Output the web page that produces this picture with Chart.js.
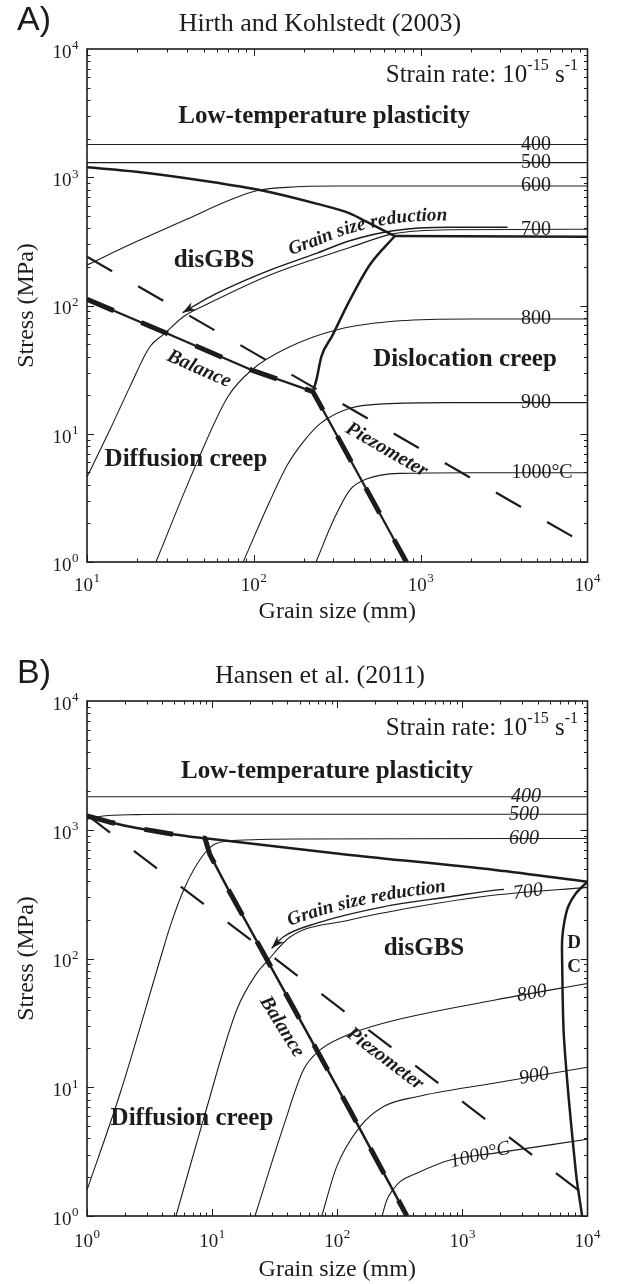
<!DOCTYPE html>
<html>
<head>
<meta charset="utf-8">
<title>Deformation mechanism maps</title>
<script src="https://cdn.jsdelivr.net/npm/chart.js@4.4.1/dist/chart.umd.min.js"></script>
<style>
  html, body { margin: 0; padding: 0; background: #fff; }
  canvas { display: block; }
</style>
</head>
<body>
<canvas id="panelA" width="625" height="642"></canvas>
<canvas id="panelB" width="625" height="642"></canvas>
<script>
// [grain size, stress (MPa)] pairs

// A) Hirth and Kohlstedt (2003)
const aIso400 = [[10, 1800], [10000, 1800]];
const aIso500 = [[10, 1300], [10000, 1300]];
const aIso600 = [[10, 207], [19.8, 315], [39.5, 470], [71.8, 665], [104, 785], [157, 834], [313, 855], [10000, 855]];
const aIso700 = [[10, 4.6], [13.7, 10.7], [18.1, 23.3], [23.8, 47.7], [29.3, 60.7], [37.8, 81.8], [54.6, 105], [125, 173], [376, 283], [683, 362], [1500, 390], [10000, 393]];
const aIso800 = [[25.9, 1], [45.4, 5.9], [70, 19.5], [97, 31.4], [157, 46.4], [320, 65], [750, 76], [2000, 78.5], [10000, 78.5]];
const aIso900 = [[86.3, 1], [125, 3.0], [160, 5.8], [200, 8.8], [250, 12], [376, 15.8], [600, 17.1], [1500, 17.5], [10000, 17.5]];
const aIso1000 = [[236, 1], [299, 2.1], [376, 3.64], [473, 4.43], [748, 4.91], [2000, 4.97], [10000, 4.97]];
const aLtpCurve = [[10, 1196], [19.8, 1105], [49.8, 940], [114, 785], [240, 620], [376, 523], [473, 450], [700, 348]];
const aLtpFlat = [[700, 348], [10000, 344]];
const aDislBoundary = [[226, 21.3], [237, 26.2], [254, 39.9], [295, 58], [376, 110], [495, 207], [700, 348]];
const aBalance = [[10, 112], [30, 60.7], [97, 31.4], [226, 21.3], [821, 1]];
const aPiezometer = [[10, 240], [8470, 1.53]];
const aArrow = [[37.4, 87.9], [54.6, 117], [94.6, 163], [125, 189], [237, 255], [376, 320], [683, 383], [1494, 407], [3320, 407]];

const aIsoLabels = [['400', 4910, 1800], ['500', 4910, 1300], ['600', 4910, 855], ['700', 4910, 393],
                    ['800', 4910, 78.5], ['900', 4910, 17.5], ['1000°C', 5340, 4.97]];
const aFieldLabels = [['Low-temperature plasticity', 264, 2965], ['disGBS', 57.7, 226],
                      ['Dislocation creep', 1845, 37.6], ['Diffusion creep', 39.2, 6.24]];
const aLineLabels = [['Balance', 46.9, 32, 24], ['Piezometer', 625, 7.47, 30]];

// B) Hansen et al. (2011)
const bIso400 = [[1, 1806], [10000, 1806]];
const bIso500 = [[1, 1210], [1.35, 1280], [2.5, 1310], [5, 1318], [10000, 1318]];
const bIso600 = [[1, 1.59], [1.84, 8.98], [3.83, 97.3], [4.61, 177], [6.08, 361], [8.5, 637], [10.9, 785], [17.8, 832], [50, 848], [10000, 855]];
const bIso700 = [[5.14, 1], [8.5, 5.57], [15.7, 39.8], [22.7, 76.7], [27.3, 94.4], [42, 147], [126, 199], [432, 252], [1825, 311], [10000, 357]];
const bIso800 = [[22, 1], [37, 4.9], [53.6, 13.6], [73, 19.5], [112, 24.7], [233, 31.4], [1825, 47.6], [10000, 64]];
const bIso900 = [[75.2, 1], [99, 2.42], [152, 4.94], [233, 7.06], [432, 8.45], [1825, 10.8], [10000, 14.3]];
const bIso1000 = [[228, 1], [249, 1.33], [281, 1.62], [318, 1.85], [432, 2.15], [798, 2.72], [1825, 3.08], [10000, 3.94]];
const bLtp = [[1, 1280], [1.5, 1150], [2.5, 1030], [5, 920], [8.77, 859], [126, 637], [1825, 487], [10000, 395]];
const bBalance = [[8.77, 859], [9.6, 640], [13.1, 361], [126, 6.65], [360, 1]];
const bPiezometer = [[1, 1303], [8730, 1.55]];
const bDc = [[10000, 395], [8090, 321], [7000, 252], [6500, 188], [6270, 139], [6270, 97], [6500, 23.3], [8090, 2.15], [9060, 1]];
const bArrow = [[29.9, 120], [37, 147], [68.6, 188], [233, 252], [797, 302], [1825, 340], [2150, 344]];

const bIsoLabels = [['400', 3220, 1806, 0], ['500', 3110, 1318, 0], ['600', 3110, 850, 0], ['700', 3350, 330, -8],
                    ['800', 3600, 53.6, -10], ['900', 3740, 12.2, -10], ['1000°C', 1384, 2.96, -14]];
const bFieldLabels = [['Low-temperature plasticity', 82.8, 2825], ['disGBS', 493, 120], ['Diffusion creep', 6.9, 5.74]];
const bLineLabels = [['Balance', 36, 29.5, 58], ['Piezometer', 241, 16.6, 37]];
const bLetters = [['D', 7800, 131], ['C', 7800, 86.3]];

const INK = '#1c1c1c';
const SERIF = '"Liberation Serif", "Times New Roman", serif';
const SANS = '"Liberation Sans", Arial, sans-serif';

function pts(arr) {
  return arr.map(p => ({ x: p[0], y: p[1] }));
}

function line(arr, width, extra) {
  return Object.assign({
    data: pts(arr), borderColor: INK, borderWidth: width, pointRadius: 0,
    fill: false, clip: 0, tension: 0, borderJoinStyle: 'round'
  }, extra || {});
}

const smooth = { cubicInterpolationMode: 'monotone' };
const dashed = { borderDash: [29, 30], borderCapStyle: 'butt' };

function text(ctx, s, x, y, font, angle, align) {
  ctx.save();
  ctx.font = font;
  ctx.textAlign = align || 'center';
  ctx.textBaseline = 'middle';
  ctx.translate(x, y);
  if (angle) ctx.rotate(angle * Math.PI / 180);
  ctx.fillText(s, 0, 0);
  ctx.restore();
}

// "10" with a raised exponent
function power(ctx, e, x, y, align) {
  ctx.font = '19px ' + SERIF;
  const wb = ctx.measureText('10').width;
  ctx.font = '13px ' + SERIF;
  const ws = ctx.measureText(String(e)).width;
  const total = wb + ws + 0.5;
  const x0 = align === 'center' ? x - total / 2 : x - total;
  ctx.textAlign = 'left';
  ctx.textBaseline = 'middle';
  ctx.font = '19px ' + SERIF;
  ctx.fillText('10', x0, y);
  ctx.font = '13px ' + SERIF;
  ctx.fillText(String(e), x0 + wb + 0.5, y - 7);
}

function strainRate(ctx, xRight, y) {
  const segs = [['Strain rate: 10', '25px ', 0], ['-15', '16px ', -9], [' s', '25px ', 0], ['-1', '16px ', -9]];
  let total = 0;
  segs.forEach(s => { ctx.font = s[1] + SERIF; total += ctx.measureText(s[0]).width; });
  let cx = xRight - total;
  ctx.textAlign = 'left';
  ctx.textBaseline = 'middle';
  segs.forEach(s => {
    ctx.font = s[1] + SERIF;
    ctx.fillText(s[0], cx, y + s[2]);
    cx += ctx.measureText(s[0]).width;
  });
}

// sample the drawn bezier of a line dataset
function densePath(meta) {
  const p = meta.data, out = [];
  for (let i = 0; i < p.length - 1; i++) {
    const a = p[i], b = p[i + 1];
    const c1x = a.cp2x ?? a.x, c1y = a.cp2y ?? a.y, c2x = b.cp1x ?? b.x, c2y = b.cp1y ?? b.y;
    for (let t = 0; t < 1; t += 0.05) {
      const u = 1 - t;
      out.push({
        x: u * u * u * a.x + 3 * u * u * t * c1x + 3 * u * t * t * c2x + t * t * t * b.x,
        y: u * u * u * a.y + 3 * u * u * t * c1y + 3 * u * t * t * c2y + t * t * t * b.y
      });
    }
  }
  out.push({ x: p[p.length - 1].x, y: p[p.length - 1].y });
  return out;
}

function textOnPath(ctx, s, path, startX, off, font) {
  const L = [0];
  for (let i = 1; i < path.length; i++) {
    L.push(L[i - 1] + Math.hypot(path[i].x - path[i - 1].x, path[i].y - path[i - 1].y));
  }
  let d = 0;
  for (let i = 1; i < path.length; i++) {
    if (path[i].x >= startX) {
      const f = (startX - path[i - 1].x) / (path[i].x - path[i - 1].x);
      d = L[i - 1] + f * (L[i] - L[i - 1]);
      break;
    }
  }
  const at = dist => {
    for (let i = 1; i < path.length; i++) {
      if (L[i] >= dist) {
        const f = (dist - L[i - 1]) / (L[i] - L[i - 1] || 1);
        const dx = path[i].x - path[i - 1].x, dy = path[i].y - path[i - 1].y;
        return { x: path[i - 1].x + f * dx, y: path[i - 1].y + f * dy, ang: Math.atan2(dy, dx) };
      }
    }
    const n = path.length - 1;
    return { x: path[n].x, y: path[n].y, ang: 0 };
  };
  ctx.font = font;
  ctx.textAlign = 'center';
  ctx.textBaseline = 'alphabetic';
  for (const ch of s) {
    const w = ctx.measureText(ch).width;
    const p = at(d + w / 2);
    ctx.save();
    ctx.translate(p.x + Math.sin(p.ang) * off, p.y - Math.cos(p.ang) * off);
    ctx.rotate(p.ang);
    ctx.fillText(ch, 0, 0);
    ctx.restore();
    d += w;
  }
}

function decorPlugin(c) {
  return {
    id: 'decor',
    afterDatasetsDraw(chart) {
      const ctx = chart.ctx, a = chart.chartArea;
      const X = v => chart.scales.x.getPixelForValue(v);
      const Y = v => chart.scales.y.getPixelForValue(v);
      ctx.save();
      ctx.fillStyle = INK;
      ctx.strokeStyle = INK;

      // frame and inward ticks
      ctx.lineWidth = 1.6;
      ctx.strokeRect(a.left, a.top, a.right - a.left, a.bottom - a.top);
      ctx.lineWidth = 1;
      ctx.beginPath();
      for (let e = c.xExp0; e < 4; e++) {
        for (let k = 1; k <= 9; k++) {
          const px = Math.round(X(k * Math.pow(10, e))) + 0.5, len = k === 1 ? 7 : 3.5;
          ctx.moveTo(px, a.bottom); ctx.lineTo(px, a.bottom - len);
          ctx.moveTo(px, a.top); ctx.lineTo(px, a.top + len);
        }
      }
      for (let e = 0; e < 4; e++) {
        for (let k = 1; k <= 9; k++) {
          const py = Math.round(Y(k * Math.pow(10, e))) + 0.5, len = k === 1 ? 7 : 3.5;
          ctx.moveTo(a.left, py); ctx.lineTo(a.left + len, py);
          ctx.moveTo(a.right, py); ctx.lineTo(a.right - len, py);
        }
      }
      ctx.stroke();

      // tick labels
      for (let e = c.xExp0; e <= 4; e++) power(ctx, e, X(Math.pow(10, e)), a.bottom + c.xLabelGap, 'center');
      for (let e = 0; e <= 4; e++) power(ctx, e, a.left - 8.5, Y(Math.pow(10, e)) + 4, 'right');

      // axis titles, panel letter, title
      const mid = (a.left + a.right) / 2;
      text(ctx, 'Grain size (mm)', mid, a.bottom + c.xTitleGap, '24px ' + SERIF);
      text(ctx, 'Stress (MPa)', 27, (a.top + a.bottom) / 2, '24px ' + SERIF, -90);
      text(ctx, c.letter, 34, c.letterY, '34px ' + SANS);
      text(ctx, c.title, 320, c.titleY, '26px ' + SERIF);
      strainRate(ctx, a.right - 9.5, a.top + c.rateGap);

      // field names
      c.fields.forEach(f => text(ctx, f[0], X(f[1]), Y(f[2]), 'bold 25px ' + SERIF));
      (c.letters || []).forEach(f => text(ctx, f[0], X(f[1]), Y(f[2]), 'bold 19px ' + SERIF));
      // isotherm labels
      c.isos.forEach(f => text(ctx, f[0], X(f[1]), Y(f[2]), c.isoFont, f[3] || 0));
      // line names
      c.lineLabels.forEach(f => text(ctx, f[0], X(f[1]), Y(f[2]), 'italic bold 20px ' + SERIF, f[3]));

      // grain size reduction arrow head and text
      const path = densePath(chart.getDatasetMeta(c.arrowIndex));
      const tip = path[0];
      let q = path[1];
      for (const p of path) { if (Math.hypot(p.x - tip.x, p.y - tip.y) > 12) { q = p; break; } }
      const len = Math.hypot(tip.x - q.x, tip.y - q.y);
      const ux = (tip.x - q.x) / len, uy = (tip.y - q.y) / len;
      ctx.beginPath();
      ctx.moveTo(tip.x, tip.y);
      ctx.lineTo(tip.x - ux * 13 - uy * 4.5, tip.y - uy * 13 + ux * 4.5);
      ctx.lineTo(tip.x - ux * 9, tip.y - uy * 9);
      ctx.lineTo(tip.x - ux * 13 + uy * 4.5, tip.y - uy * 13 - ux * 4.5);
      ctx.closePath();
      ctx.fill();
      textOnPath(ctx, 'Grain size reduction', path, c.arrowTextX, c.arrowTextOff, 'italic bold 19px ' + SERIF);
      ctx.restore();
    }
  };
}

function makeChart(id, datasets, cfg) {
  return new Chart(document.getElementById(id), {
    type: 'line',
    data: { datasets: datasets },
    options: {
      responsive: false,
      animation: false,
      devicePixelRatio: 1,
      layout: { padding: { top: cfg.top, right: 37.5, left: 0, bottom: 0 } },
      plugins: { legend: { display: false }, tooltip: { enabled: false } },
      scales: {
        x: {
          type: 'logarithmic', min: Math.pow(10, cfg.xExp0), max: 10000,
          ticks: { display: false }, grid: { display: false }, border: { display: false },
          afterFit: s => { s.height = cfg.xHeight; }
        },
        y: {
          type: 'logarithmic', min: 1, max: 10000,
          ticks: { display: false }, grid: { display: false }, border: { display: false },
          afterFit: s => { s.width = 87; }
        }
      }
    },
    plugins: [decorPlugin(cfg)]
  });
}

const thin = 1.1, thick = 2.5;

makeChart('panelA', [
  line(aIso400, thin), line(aIso500, thin),
  line(aIso600, thin, smooth), line(aIso700, thin, smooth), line(aIso800, thin, smooth),
  line(aIso900, thin, smooth), line(aIso1000, thin, smooth),
  line(aLtpCurve, thick, smooth), line(aLtpFlat, thick), line(aDislBoundary, thick, smooth),
  line(aBalance, 2.2), line(aBalance, 5, dashed),
  line(aPiezometer, 2.2, dashed),
  line(aArrow, 1.4, smooth)
], {
  top: 49, xHeight: 80, xExp0: 1, xLabelGap: 24, xTitleGap: 50,
  letter: 'A)', letterY: 21, title: 'Hirth and Kohlstedt (2003)', titleY: 24, rateGap: 26,
  fields: aFieldLabels, isos: aIsoLabels, isoFont: '20px ' + SERIF, lineLabels: aLineLabels,
  arrowIndex: 13, arrowTextX: 293, arrowTextOff: 7
});

makeChart('panelB', [
  line(bIso400, thin), line(bIso500, thin, smooth),
  line(bIso600, thin, smooth), line(bIso700, thin, smooth), line(bIso800, thin, smooth),
  line(bIso900, thin, smooth), line(bIso1000, thin, smooth),
  line(bLtp, thick, smooth), line(bBalance, thick), line(bDc, thick, { tension: 0.3 }),
  line(bLtp.slice(0, 5).concat(bBalance.slice(1)), 5, dashed),
  line(bPiezometer, 2.2, dashed),
  line(bArrow, 1.4, smooth)
], {
  top: 59, xHeight: 68, xExp0: 0, xLabelGap: 26, xTitleGap: 54,
  letter: 'B)', letterY: 32, title: 'Hansen et al. (2011)', titleY: 34, rateGap: 27,
  fields: bFieldLabels, letters: bLetters, isos: bIsoLabels, isoFont: 'italic 20px ' + SERIF, lineLabels: bLineLabels,
  arrowIndex: 12, arrowTextX: 292, arrowTextOff: 6
});
</script>
</body>
</html>
